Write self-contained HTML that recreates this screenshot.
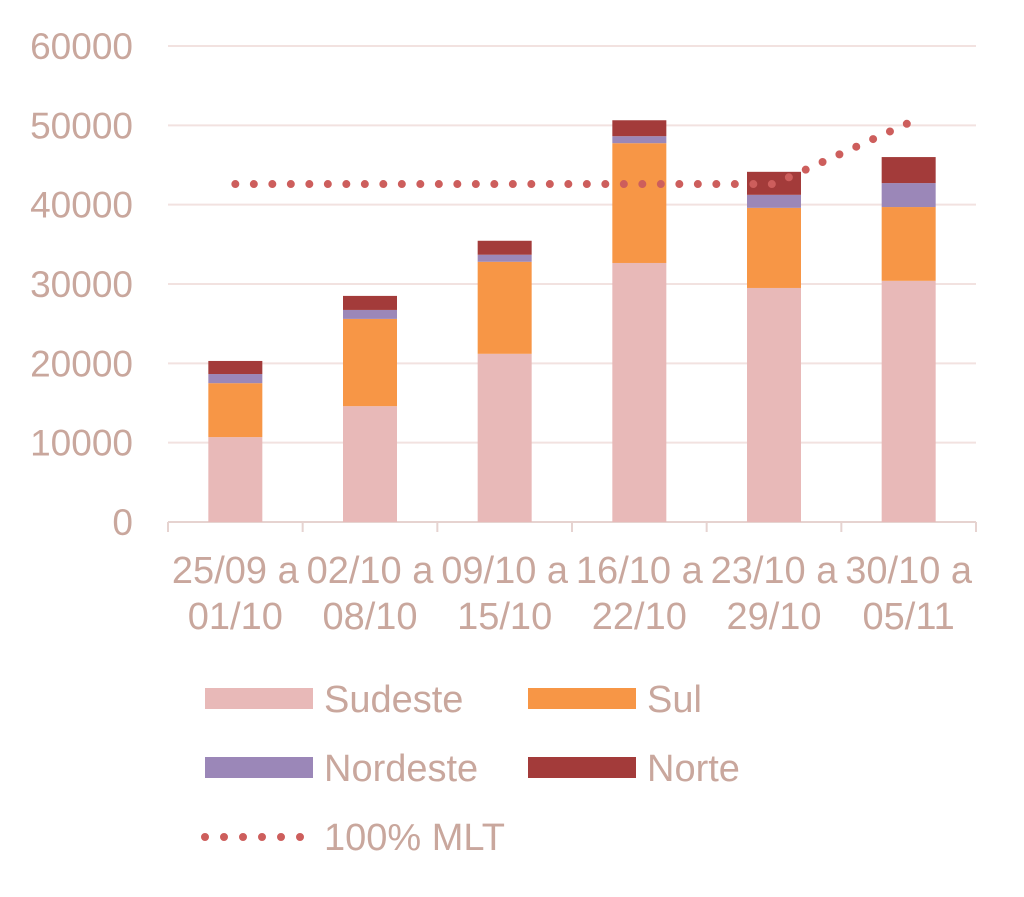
<!DOCTYPE html>
<html><head><meta charset="utf-8"><style>
body{margin:0;background:#fff;}
svg text{font-family:"Liberation Sans",sans-serif;fill:#c9a79d;}
</style></head><body>
<svg id="chart" width="1024" height="892"></svg>
<script>
const categories=[["25/09 a","01/10"],["02/10 a","08/10"],["09/10 a","15/10"],["16/10 a","22/10"],["23/10 a","29/10"],["30/10 a","05/11"]];
const sudeste=[10700,14600,21200,32650,29500,30400];
const sul=[6800,11000,11600,15100,10100,9300];
const nordeste=[1150,1130,890,880,1640,3020];
const norte=[1650,1770,1760,2010,2900,3280];
const mlt=[42600,42600,42600,42600,42600,50300];
const yTicks=[0,10000,20000,30000,40000,50000,60000];
const seriesNames=["Sudeste","Sul","Nordeste","Norte"];
const colors=["#e8b9b8","#f79646","#9b87b8","#a33b3a"];
const NS="http://www.w3.org/2000/svg";
const svg=document.getElementById('chart');
const x0=168,x1=976,y0=522,yTop=46;
const bw=(x1-x0)/categories.length;
const y=v=>y0-(v/60000)*(y0-yTop);
const xc=i=>x0+bw*(i+0.5);
function mk(t,a){const e=document.createElementNS(NS,t);for(const k in a)e.setAttribute(k,a[k]);svg.appendChild(e);return e;}
yTicks.forEach(t=>{
  if(t>0){const g=mk('line',{x1:x0,x2:x1,y1:y(t),y2:y(t),stroke:'#f2e2e0','stroke-width':2});
  
  }
  const l=mk('text',{x:133,y:y(t)+13,'text-anchor':'end','font-size':37});
  l.textContent=t;
  
  
});
const ax=mk('line',{x1:x0,x2:x1,y1:y0,y2:y0,stroke:'#e6d3d0','stroke-width':2});


for(let i=0;i<=categories.length;i++){
  const tk=mk('line',{x1:x0+bw*i,x2:x0+bw*i,y1:y0,y2:y0+10,stroke:'#e6d3d0','stroke-width':2});
  
  
}
const series=[sudeste,sul,nordeste,norte];
categories.forEach((c,i)=>{
  let base=0;
  series.forEach((s,k)=>{
    const r=mk('rect',{x:xc(i)-27,width:54,y:y(base+s[i]),height:y(base)-y(base+s[i]),fill:colors[k]});
    
    
    base+=s[i];
  });
  c.forEach((line,j)=>{
    const t=mk('text',{x:xc(i),y:583+j*46,'text-anchor':'middle','font-size':38});
    t.textContent=line;
    
    
  });
});
const pts=mlt.map((v,i)=>xc(i)+','+y(v)).join(' ');
const pl=mk('polyline',{points:pts,fill:'none',stroke:'#cd5e5c','stroke-width':8,'stroke-dasharray':'0 18.5','stroke-linecap':'round'});


const leg=[[205,699,0],[528,699,1],[205,768,2],[528,768,3]];
leg.forEach(([lx,ly,k])=>{
  const r=mk('rect',{x:lx,y:ly-11,width:108,height:21,fill:colors[k]});
  
  
  const t=mk('text',{x:lx+119,y:ly+13,'font-size':38});
  t.textContent=seriesNames[k];
  
  
});
const ml=mk('line',{x1:205,x2:301,y1:837,y2:837,stroke:'#cd5e5c','stroke-width':8,'stroke-dasharray':'0 19','stroke-linecap':'round'});


const mt=mk('text',{x:324,y:850,'font-size':38});
mt.textContent='100% MLT';


</script>
</body></html>
